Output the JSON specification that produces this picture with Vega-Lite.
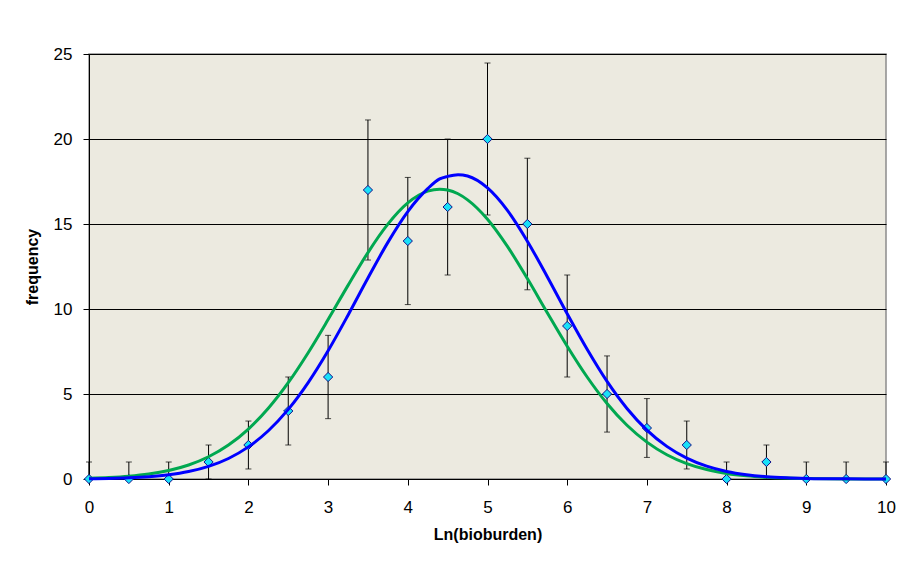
{
  "$schema": "https://vega.github.io/schema/vega-lite/v6.json",
  "width": 797,
  "height": 425,
  "autosize": {"type": "none"},
  "padding": {"left": 89, "top": 54, "right": 12, "bottom": 86},
  "background": "#FFFFFF",
  "config": {
    "font": "Liberation Sans",
    "view": {"fill": "#ECEAE0", "stroke": "#8C8C8C", "strokeWidth": 1.5},
    "axis": {
      "labelFont": "Liberation Sans",
      "titleFont": "Liberation Sans",
      "labelFontSize": 17,
      "titleFontSize": 16,
      "labelColor": "#000000",
      "titleColor": "#000000",
      "titleFontWeight": "bold",
      "tickColor": "#000000",
      "domainColor": "#000000",
      "tickSize": 6
    }
  },
  "datasets": {
    "obs": [
      {"x": 0, "n": 0, "lo": 0, "hi": 1},
      {"x": 0.5, "n": 0, "lo": 0, "hi": 1},
      {"x": 1, "n": 0, "lo": 0, "hi": 1},
      {"x": 1.5, "n": 1, "lo": 0, "hi": 2},
      {"x": 2, "n": 2, "lo": 0.59, "hi": 3.41},
      {"x": 2.5, "n": 4, "lo": 2, "hi": 6},
      {"x": 3, "n": 6, "lo": 3.55, "hi": 8.45},
      {"x": 3.5, "n": 17, "lo": 12.88, "hi": 21.12},
      {"x": 4, "n": 14, "lo": 10.26, "hi": 17.74},
      {"x": 4.5, "n": 16, "lo": 12, "hi": 20},
      {"x": 5, "n": 20, "lo": 15.53, "hi": 24.47},
      {"x": 5.5, "n": 15, "lo": 11.13, "hi": 18.87},
      {"x": 6, "n": 9, "lo": 6, "hi": 12},
      {"x": 6.5, "n": 5, "lo": 2.76, "hi": 7.24},
      {"x": 7, "n": 3, "lo": 1.27, "hi": 4.73},
      {"x": 7.5, "n": 2, "lo": 0.59, "hi": 3.41},
      {"x": 8, "n": 0, "lo": 0, "hi": 1},
      {"x": 8.5, "n": 1, "lo": 0, "hi": 2},
      {"x": 9, "n": 0, "lo": 0, "hi": 1},
      {"x": 9.5, "n": 0, "lo": 0, "hi": 1},
      {"x": 10, "n": 0, "lo": 0, "hi": 1}
    ],
    "fit": [
      {"x": 0, "blue": 0.017, "green": 0.046},
      {"x": 0.25, "blue": 0.035, "green": 0.089},
      {"x": 0.5, "blue": 0.070, "green": 0.164},
      {"x": 0.75, "blue": 0.134, "green": 0.292},
      {"x": 1, "blue": 0.246, "green": 0.501},
      {"x": 1.25, "blue": 0.436, "green": 0.825},
      {"x": 1.5, "blue": 0.740, "green": 1.310},
      {"x": 1.75, "blue": 1.206, "green": 2.000},
      {"x": 2, "blue": 1.889, "green": 2.939},
      {"x": 2.25, "blue": 2.837, "green": 4.160},
      {"x": 2.5, "blue": 4.094, "green": 5.666},
      {"x": 2.75, "blue": 5.673, "green": 7.429},
      {"x": 3, "blue": 7.545, "green": 9.376},
      {"x": 3.25, "blue": 9.636, "green": 11.39},
      {"x": 3.5, "blue": 11.82, "green": 13.32},
      {"x": 3.75, "blue": 13.92, "green": 14.99},
      {"x": 4, "blue": 15.73, "green": 16.24},
      {"x": 4.25, "blue": 17.08, "green": 16.93},
      {"x": 4.4, "blue": 17.65, "green": 17.05},
      {"x": 4.5, "blue": 17.80, "green": 17.00},
      {"x": 4.63, "blue": 17.90, "green": 16.78},
      {"x": 4.75, "blue": 17.82, "green": 16.42},
      {"x": 5, "blue": 17.12, "green": 15.28},
      {"x": 5.25, "blue": 15.80, "green": 13.68},
      {"x": 5.5, "blue": 13.99, "green": 11.79},
      {"x": 5.75, "blue": 11.90, "green": 9.78},
      {"x": 6, "blue": 9.72, "green": 7.81},
      {"x": 6.25, "blue": 7.63, "green": 6.00},
      {"x": 6.5, "blue": 5.74, "green": 4.44},
      {"x": 6.75, "blue": 4.15, "green": 3.16},
      {"x": 7, "blue": 2.88, "green": 2.17},
      {"x": 7.25, "blue": 1.92, "green": 1.429},
      {"x": 7.5, "blue": 1.229, "green": 0.908},
      {"x": 7.75, "blue": 0.755, "green": 0.555},
      {"x": 8, "blue": 0.446, "green": 0.327},
      {"x": 8.25, "blue": 0.253, "green": 0.185},
      {"x": 8.5, "blue": 0.137, "green": 0.101},
      {"x": 8.75, "blue": 0.072, "green": 0.053},
      {"x": 9, "blue": 0.036, "green": 0.027},
      {"x": 9.5, "blue": 0.008, "green": 0.006},
      {"x": 10, "blue": 0.0015, "green": 0.0012}
    ]
  },
  "layer": [
    {
      "data": {"name": "obs"},
      "mark": {"type": "rule", "color": "#000000", "strokeWidth": 1},
      "encoding": {
        "x": {
          "field": "x", "type": "quantitative",
          "scale": {"domain": [0, 10], "nice": false},
          "axis": {
            "title": "Ln(bioburden)", "values": [0,1,2,3,4,5,6,7,8,9,10],
            "format": "d",
            "grid": false, "labelPadding": 14, "titlePadding": 11,
            "labelFlush": false
          }
        },
        "y": {
          "field": "lo", "type": "quantitative",
          "scale": {"domain": [0, 25], "nice": false},
          "axis": {
            "title": "frequency", "values": [0,5,10,15,20,25],
            "format": "d",
            "grid": true, "gridColor": "#000000", "gridWidth": 1, "gridOpacity": 1,
            "labelPadding": 11, "titlePadding": 13, "labelFlush": false
          }
        },
        "y2": {"field": "hi"}
      }
    },
    {
      "data": {"name": "obs"},
      "mark": {"type": "tick", "orient": "horizontal", "color": "#000000", "size": 6, "thickness": 1},
      "encoding": {
        "x": {"field": "x", "type": "quantitative"},
        "y": {"field": "hi", "type": "quantitative"}
      }
    },
    {
      "data": {"name": "obs"},
      "mark": {"type": "tick", "orient": "horizontal", "color": "#000000", "size": 6, "thickness": 1},
      "encoding": {
        "x": {"field": "x", "type": "quantitative"},
        "y": {"field": "lo", "type": "quantitative"}
      }
    },
    {
      "data": {"name": "obs"},
      "mark": {"type": "point", "shape": "diamond", "filled": true, "fill": "#18E0F8", "stroke": "#10108A", "strokeWidth": 1, "size": 85, "opacity": 1},
      "encoding": {
        "x": {"field": "x", "type": "quantitative"},
        "y": {"field": "n", "type": "quantitative"}
      }
    },
    {
      "data": {"name": "fit"},
      "mark": {"type": "line", "color": "#00A850", "strokeWidth": 3, "interpolate": "monotone"},
      "encoding": {
        "x": {"field": "x", "type": "quantitative"},
        "y": {"field": "green", "type": "quantitative"}
      }
    },
    {
      "data": {"name": "fit"},
      "mark": {"type": "line", "color": "#0000FF", "strokeWidth": 3, "interpolate": "monotone"},
      "encoding": {
        "x": {"field": "x", "type": "quantitative"},
        "y": {"field": "blue", "type": "quantitative"}
      }
    }
  ]
}
